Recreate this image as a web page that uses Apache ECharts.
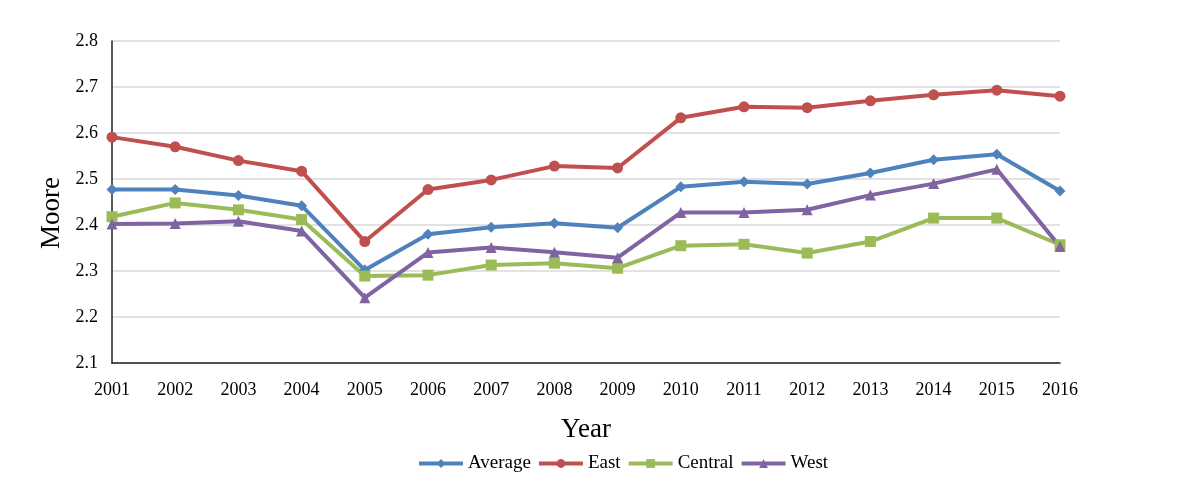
<!DOCTYPE html>
<html><head><meta charset="utf-8">
<script src="https://cdn.jsdelivr.net/npm/echarts@6/dist/echarts.min.js"></script>
<style>html,body{margin:0;padding:0;background:#fff}#c{width:1196px;height:498px}</style>
</head><body><div id="c"></div>
<script>
const years = ['2001','2002','2003','2004','2005','2006','2007','2008','2009','2010','2011','2012','2013','2014','2015','2016'];
const average = [2.477,2.477,2.464,2.442,2.302,2.380,2.395,2.404,2.394,2.483,2.494,2.489,2.513,2.542,2.554,2.474];
const east    = [2.591,2.570,2.540,2.517,2.364,2.477,2.498,2.528,2.524,2.633,2.657,2.655,2.670,2.683,2.693,2.680];
const central = [2.418,2.448,2.433,2.412,2.289,2.291,2.313,2.317,2.306,2.355,2.358,2.339,2.364,2.415,2.415,2.357];
const west    = [2.402,2.403,2.408,2.387,2.242,2.340,2.351,2.341,2.329,2.427,2.427,2.433,2.465,2.490,2.521,2.353];
const yTicks = {min: 2.1, max: 2.8, step: 0.1};

const font = '"Liberation Serif","Times New Roman",serif';
function mk(name, data, color, symbol, size) {
  return {name, type:'line', data, symbol, symbolSize:size,
    lineStyle:{width:4,color}, itemStyle:{color}, emphasis:{disabled:true}};
}
const chart = echarts.init(document.getElementById('c'));
chart.setOption({
  animation:false,
  grid:{left:112, right:136, top:41, bottom:135},
  legend:{top:454, left:417, padding:0, itemWidth:44, itemHeight:11, itemGap:6,
    lineStyle:{width:4},
    textStyle:{fontFamily:font, fontSize:19, color:'#000'},
    data:['Average','East','Central','West']},
  graphic:[{type:'text', left:38, top:177, rotation:Math.PI/2,
    style:{text:'Moore', font:'27px "Liberation Serif", serif', fill:'#000'}}],
  xAxis:{type:'category', data:years, boundaryGap:false,
    name:'Year', nameLocation:'middle', nameGap:53,
    nameTextStyle:{fontFamily:font, fontSize:27, color:'#000'},
    axisLine:{lineStyle:{color:'#222', width:1.5}}, axisTick:{show:false},
    axisLabel:{fontFamily:font, fontSize:18, color:'#000', margin:18}},
  yAxis:{type:'value', min:yTicks.min, max:yTicks.max, interval:yTicks.step,
    axisLine:{show:true, lineStyle:{color:'#222', width:1.5}}, axisTick:{show:false},
    splitLine:{lineStyle:{color:'#d9d9d9', width:1.5}},
    axisLabel:{fontFamily:font, fontSize:18, color:'#000', margin:14,
      formatter:v=>v.toFixed(1)}},
  series:[
    mk('Average', average, '#4F81BD', 'diamond', 11),
    mk('East', east, '#C0504D', 'circle', 11),
    mk('Central', central, '#9BBB59', 'rect', 11),
    mk('West', west, '#8064A2', 'triangle', 11)
  ]
});
</script></body></html>
